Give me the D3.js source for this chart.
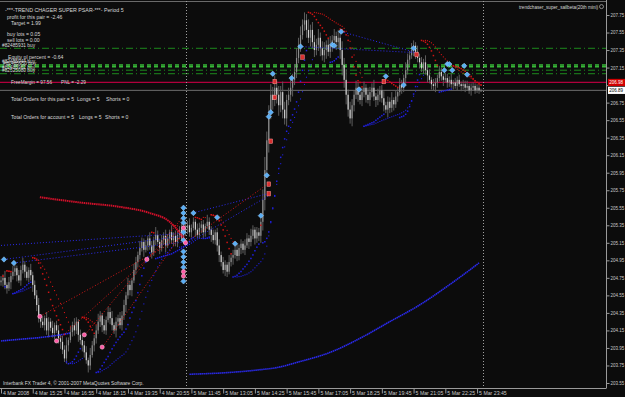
<!DOCTYPE html>
<html>
<head>
<meta charset="utf-8">
<script src="https://cdn.jsdelivr.net/npm/d3@7/dist/d3.min.js"></script>
<style>
  body { margin: 0; background: #0c0c0c; }
  svg { display: block; }
  text { font-family: "Liberation Sans", Arial, sans-serif; white-space: pre; }
</style>
</head>
<body>
<script>
// M5 bars, 4-5 Mar 2008
var firstOpen = 204.70;
var closes = [
  204.72, 204.75, 204.67, 204.63, 204.70, 204.77,
  204.82, 204.86, 204.78, 204.72, 204.84, 204.90, 204.82, 204.75, 204.84,
  204.78, 204.67, 204.55, 204.44, 204.29, 204.25,
  204.21, 204.29, 204.15, 204.25, 204.18, 204.12, 204.21, 204.15, 204.06, 204.02,
  203.93, 203.83, 203.98, 204.04, 204.13,
  204.21, 204.15, 204.25, 204.10, 204.04, 203.98, 203.90,
  203.81, 203.75, 203.87, 203.98, 204.06,
  204.15, 204.25, 204.32, 204.21, 204.15, 204.27, 204.36, 204.29,
  204.21, 204.15, 204.25, 204.29, 204.21, 204.32, 204.44,
  204.55, 204.67, 204.61, 204.72, 204.84, 204.93, 205.01,
  205.09, 205.16, 205.07, 205.12, 205.20, 205.12, 205.04, 205.18,
  205.24, 205.16, 205.09, 205.18, 205.23, 205.12, 205.20, 205.27, 205.18,
  205.23, 205.16, 205.24, 205.30, 205.20, 205.27, 205.32,
  205.35, 205.27, 205.32, 205.39, 205.30, 205.24, 205.32,
  205.36, 205.27, 205.34, 205.39, 205.30, 205.24, 205.18, 205.27,
  205.12, 205.01, 204.93, 204.84, 204.90, 204.82, 204.93,
  204.98, 205.01, 205.07, 205.00, 205.09, 205.14, 205.07,
  205.12, 205.20, 205.16, 205.23, 205.30, 205.20, 205.27, 205.23,
  205.39, 205.64, 205.98, 206.32, 206.64, 206.84,
  206.78, 206.92, 206.84, 206.72, 206.87, 206.67,
  206.57, 206.78, 206.84, 206.92, 207.01, 207.10,
  207.26, 207.41, 207.52, 207.64, 207.69, 207.58,
  207.49, 207.58, 207.44, 207.35, 207.41, 207.49, 207.37, 207.29, 207.35, 207.41,
  207.33, 207.41, 207.46, 207.51, 207.44, 207.49, 207.35,
  207.18, 207.01, 206.84, 206.67, 206.57, 206.72, 206.84,
  206.92, 206.84, 206.78, 206.87, 206.92, 206.84, 206.78,
  206.87, 206.92, 206.82, 206.78, 206.84, 206.89, 206.80,
  206.72, 206.67, 206.76, 206.69, 206.78, 206.73, 206.82,
  206.87, 206.95, 206.92, 207.03, 207.12, 207.24, 207.29,
  207.35, 207.40, 207.33, 207.26, 207.21,
  207.14, 207.21, 207.12, 207.06, 207.01, 206.96, 206.94,
  206.98, 207.03, 207.10, 207.05, 207.01, 207.03,
  206.98, 207.01, 206.96, 206.98, 206.94, 207.01, 206.96,
  206.94, 206.96, 206.92, 206.94, 206.89, 206.92, 206.94, 206.89,
  206.92, 206.89, 206.89
];
// upper / lower wick beyond the body, in pips
var hiExt = [
  5,4,8,3,6,4,7,5,3,6, 5,8,4,6,3,7,4,5,6,8, 4,6,3,7,5,4,8,3,5,6, 4,7,5,9,3,6,4,8,5,3,
  6,4,5,7,3,8,5,4,6,9, 5,3,7,4,6,5,8,3,5,4, 7,5,6,4,8,5,3,7,6,4, 8,5,4,6,3,7,5,4,9,5,
  3,6,4,7,5,3,8,4,6,5, 4,7,3,6,5,8,4,5,3,7, 6,4,5,3,8,5,4,6,3,5, 7,4,6,5,3,8,4,6,5,7,
  4,5,3,7,6,4,8,5,3,6, 5,10,12,15,10,8,12,9,14,8, 10,7,12,9,6,8,10,7,9,11, 8,10,6,9,7,12,6,9,8,7,
  10,6,8,9,5,7,10,6,8,5, 9,7,10,8,12,6,9,7,5,8, 6,9,5,7,4,8,6,5,9,4, 7,5,6,8,4,6,5,9,3,7,
  5,8,6,4,9,7,5,8,6,4, 7,5,6,4,8,5,7,3,6,5, 4,7,5,3,6,5,4,7,3,5, 4,6,3,5,4,6,3,5,4,3,
  4,3,2
];
var loExt = [
  4,7,5,6,3,8,4,5,7,3, 6,4,7,3,5,6,8,4,7,5, 7,3,6,5,8,4,5,7,3,6, 8,5,4,6,7,3,5,6,4,8,
  5,7,6,4,8,5,3,7,6,4, 6,8,4,5,3,7,6,4,8,5, 4,6,5,8,4,6,7,3,5,6, 5,4,8,3,6,5,7,4,6,3,
  7,4,5,8,3,6,4,7,5,6, 5,3,6,4,7,5,6,3,8,4, 4,6,7,5,3,6,8,4,5,7, 8,5,4,7,6,3,5,8,4,6,
  5,7,4,6,3,8,5,4,7,5, 6,8,10,12,9,14,8,11,7,10, 12,8,10,7,9,6,8,10,6,7, 6,8,5,7,9,6,10,7,8,6,
  7,9,6,8,10,5,7,8,6,9, 8,10,12,9,11,8,6,9,7,5, 8,5,7,6,9,4,7,6,5,8, 6,8,5,7,4,9,6,5,7,4,
  6,4,7,5,8,5,6,4,7,8, 5,7,4,6,5,8,4,6,5,7, 6,4,5,7,3,6,5,4,6,3, 5,3,6,4,5,3,4,6,3,4,
  3,4,2
];

var timeLabels = ['4 Mar 2008', '4 Mar 15:25', '4 Mar 16:55', '4 Mar 18:15', '4 Mar 19:35',
  '4 Mar 20:55', '5 Mar 11:45', '5 Mar 13:05', '5 Mar 14:25', '5 Mar 15:45', '5 Mar 17:05',
  '5 Mar 18:25', '5 Mar 19:45', '5 Mar 21:05', '5 Mar 22:25', '5 Mar 23:45'];
var barsPerLabel = 16;
var daySeparators = [93.5, 243];
var priceTicks = [207.75, 207.55, 207.35, 207.15, 206.95, 206.75, 206.55, 206.35, 206.15,
  205.95, 205.75, 205.55, 205.35, 205.15, 204.95, 204.75, 204.55, 204.35, 204.15, 203.95,
  203.75, 203.55];

var bidPrice = 206.89;
var marginLine = 206.98;

// open orders (all buys)
var orderTickets = ['82485931', '82485944', '82485950', '82485962', '82525080'];
var orderPrices = [207.37, 207.18, 207.16, 207.12, 207.08];

// slow SAR traces [bar, price]
var slowSarDown = [[19.6, 205.67], [39.8, 205.61], [59.9, 205.56], [75, 205.49], [85, 205.39], [93.6, 205.16]];
var slowSarUpA = [[0, 204.03], [10, 204.05], [20, 204.07], [30, 204.10], [35, 204.12]];
var slowSarUpB = [[95, 203.65], [115, 203.67], [130, 203.70], [140, 203.73], [150, 203.79],
  [166, 203.90], [181, 204.06], [196, 204.25], [211, 204.44], [226, 204.67], [241, 204.92]];

// history trade lines [openBar, openPrice, closeBar, closePrice]
var buyTrades = [
  [0, 205.12, 92.6, 205.26], [1.5, 204.96, 92.6, 205.23], [6.5, 204.92, 92.6, 205.16],
  [96.6, 205.49, 134.4, 205.71], [93.6, 205.14, 134.4, 205.68],
  [150.5, 207.39, 209.4, 207.32], [171.6, 207.56, 209.4, 207.32]
];
var sellTrades = [
  [19.6, 204.31, 92.6, 205.23], [28.2, 204.03, 92.6, 205.35], [42.3, 204.10, 92.6, 205.47],
  [51.3, 203.96, 92.6, 205.30], [93.6, 205.16, 134.4, 205.82]
];

// arrows [bar, price]
var buyArrows = [[1.5, 204.96], [6.5, 204.92],
  [92, 205.55], [92, 205.49], [92, 205.43], [92, 205.38], [92, 205.27], [92, 205.18],
  [92, 205.05], [92, 204.99], [92, 204.93], [92, 204.87], [92, 204.71],
  [97, 205.49], [109, 205.44], [118, 205.14], [131, 205.46], [134, 205.92], [135, 206.59],
  [136, 206.64], [137, 207.08], [146.5, 207.03], [151, 207.39], [167, 207.41], [168, 207.40],
  [171.5, 207.56], [180.5, 206.90], [194, 207.05], [203, 206.95], [208, 207.37], [223.5, 207.12],
  [225, 207.19], [226, 207.19], [227.5, 207.12], [233.5, 207.17], [235, 207.07]];
var closeArrows = [[19.6, 204.31], [28, 204.03], [42, 204.10], [51, 203.96], [73.5, 204.96],
  [92, 205.32], [93, 205.15], [92, 204.82], [92, 204.77]];
var sellArrows = [[135, 205.82], [135, 205.71], [136, 206.31], [138, 206.99], [138, 206.81],
  [152, 207.27], [193, 206.99], [209.5, 207.30]];

var profitPair = '-2.46', target = '1.99', buyLots = '0.05', sellLots = '0.00';
var equityPct = '-0.64', freeMargin = '97.56', pnl = '-2.29';
var pairOrders = [5, 5, 0], accountOrders = [5, 5, 0];

// ---------------------------------------------------------------
var W = 625, H = 397, plotR = 606, plotB = 388;
var svg = d3.select('body').append('svg').attr('width', W).attr('height', H);
svg.append('rect').attr('width', W).attr('height', H).attr('fill', '#0c0c0c');

var x = d3.scaleLinear().domain([0, 305]).range([1, plotR]);
var y = d3.scaleLinear().domain([203.55, 207.75]).range([383, 15]);

svg.append('clipPath').attr('id', 'plot').append('rect')
  .attr('x', 0).attr('y', 1).attr('width', plotR).attr('height', plotB - 1);
var g = svg.append('g').attr('clip-path', 'url(#plot)');

var bars = closes.map(function(c, i) {
  var o = i === 0 ? firstOpen : closes[i - 1];
  return { i: i, o: o, c: c,
    h: Math.max(o, c) + hiExt[i] / 100,
    l: Math.min(o, c) - loExt[i] / 100 };
});

// parabolic SAR
var psar = function(step, maxStep) {
  var out = [];
  var up = true, af = step, ep = bars[0].h, sar = bars[0].l;
  for (var i = 1; i < bars.length; i++) {
    var b = bars[i], p = bars[i - 1];
    sar = sar + af * (ep - sar);
    if (up) {
      sar = Math.min(sar, p.l);
      if (b.l < sar) { up = false; sar = ep; ep = b.l; af = step; }
      else if (b.h > ep) { ep = b.h; af = Math.min(af + step, maxStep); }
    } else {
      sar = Math.max(sar, p.h);
      if (b.h > sar) { up = true; sar = ep; ep = b.h; af = step; }
      else if (b.l < ep) { ep = b.l; af = Math.min(af + step, maxStep); }
    }
    out.push({ i: i, v: sar, up: up });
  }
  return out;
};

// horizontal levels
g.append('line').attr('x1', 0).attr('x2', plotR).attr('y1', 1.5).attr('y2', 1.5)
  .attr('stroke', '#6a6a6a');

orderPrices.forEach(function(p, k) {
  var thick = k === 1 || k === 2;
  g.append('line').attr('x1', 0).attr('x2', plotR)
    .attr('y1', y(p)).attr('y2', y(p))
    .attr('stroke', thick ? '#37b837' : '#1d8a1d')
    .attr('stroke-width', thick ? 1.6 : 1)
    .attr('stroke-dasharray', thick ? '4,3' : '7,3,1,3');
});
g.append('line').attr('x1', 0).attr('x2', plotR).attr('y1', y(marginLine)).attr('y2', y(marginLine))
  .attr('stroke', '#b0003c').attr('stroke-width', 1.2);
g.append('line').attr('x1', 0).attr('x2', plotR).attr('y1', y(bidPrice)).attr('y2', y(bidPrice))
  .attr('stroke', '#6e6e6e');

daySeparators.forEach(function(b) {
  g.append('line').attr('x1', Math.round(x(b)) + 0.5).attr('x2', Math.round(x(b)) + 0.5)
    .attr('y1', 1).attr('y2', plotB)
    .attr('stroke', '#a0a0a0').attr('stroke-dasharray', '1,2');
});

// bars
g.selectAll('line.wick').data(bars).enter().append('line').attr('class', 'wick')
  .attr('x1', function(d) { return x(d.i); }).attr('x2', function(d) { return x(d.i); })
  .attr('y1', function(d) { return y(d.h); }).attr('y2', function(d) { return y(d.l); })
  .attr('stroke', '#5e5e5e').attr('stroke-width', 1);
g.selectAll('rect.body').data(bars).enter().append('rect').attr('class', 'body')
  .attr('x', function(d) { return x(d.i) - 0.6; }).attr('width', 1.2)
  .attr('y', function(d) { return y(Math.max(d.o, d.c)); })
  .attr('height', function(d) { return Math.max(1, Math.abs(y(d.o) - y(d.c))); })
  .attr('fill', function(d) { return d.c < d.o ? '#d0d0d0' : '#8c8c8c'; });

// trade lines
var tradeLine = function(list, color) {
  g.selectAll(null).data(list).enter().append('line')
    .attr('x1', function(d) { return x(d[0]); }).attr('y1', function(d) { return y(d[1]); })
    .attr('x2', function(d) { return x(d[2]); }).attr('y2', function(d) { return y(d[3]); })
    .attr('stroke', color).attr('stroke-width', 1).attr('stroke-dasharray', '1,2');
};
tradeLine(buyTrades, '#2b2bee');
tradeLine(sellTrades, '#d81818');

// slow SAR traces
var trace = d3.line().x(function(d) { return x(d[0]); }).y(function(d) { return y(d[1]); })
  .curve(d3.curveMonotoneX);
g.append('path').attr('d', trace(slowSarDown)).attr('fill', 'none')
  .attr('stroke', '#d0102a').attr('stroke-width', 2).attr('stroke-dasharray', '1.5,0.6');
[slowSarUpA, slowSarUpB].forEach(function(s) {
  g.append('path').attr('d', trace(s)).attr('fill', 'none')
    .attr('stroke', '#2a2aee').attr('stroke-width', 1.6).attr('stroke-dasharray', '1.5,0.5');
});

// PSAR dots, fast and slow
[[psar(0.02, 0.2), 1.5], [psar(0.01, 0.1), 1.1]].forEach(function(s) {
  var sz = s[1];
  g.selectAll(null).data(s[0]).enter().append('rect')
    .attr('x', function(d) { return x(d.i) - sz / 2; })
    .attr('y', function(d) { return y(d.v) - sz / 2; })
    .attr('width', sz).attr('height', sz)
    .attr('fill', function(d) { return d.up ? '#2020e0' : '#d01414'; });
});

// arrows
g.selectAll(null).data(buyArrows).enter().append('rect')
  .attr('x', -1.9).attr('y', -1.9).attr('width', 3.8).attr('height', 3.8)
  .attr('transform', function(d) { return 'translate(' + x(d[0]) + ',' + y(d[1]) + ') rotate(45)'; })
  .attr('fill', '#5aaef5').attr('stroke', '#9ad0ff').attr('stroke-width', 0.5);
g.selectAll(null).data(closeArrows).enter().append('circle')
  .attr('cx', function(d) { return x(d[0]); }).attr('cy', function(d) { return y(d[1]); })
  .attr('r', 2.1).attr('fill', '#ff5aa5').attr('stroke', '#ffc0dc').attr('stroke-width', 0.6);
g.selectAll(null).data(sellArrows).enter().append('rect')
  .attr('x', function(d) { return x(d[0]) - 1.8; }).attr('y', function(d) { return y(d[1]) - 2.2; })
  .attr('width', 3.6).attr('height', 4.4)
  .attr('fill', '#d83030').attr('stroke', '#ff9a9a').attr('stroke-width', 0.5);

// axes
var hiddenByBox = function(v) {
  return Math.abs(y(v) - y(marginLine)) < 6 || Math.abs(y(v) - y(bidPrice)) < 6;
};
var axisR = d3.axisRight(y).tickValues(priceTicks).tickSize(3)
  .tickFormat(function(d) { return hiddenByBox(d) ? '' : d.toFixed(2); });
var ay = svg.append('g').attr('transform', 'translate(' + (plotR + 0.5) + ',0)').call(axisR);
ay.select('.domain').attr('stroke', '#9a9a9a').attr('d', 'M0,0V' + plotB);
ay.selectAll('line').attr('stroke', '#9a9a9a');
ay.selectAll('text').attr('fill', '#c8c8c8').attr('font-size', 4.5).attr('x', 4)
  .style('font-family', '"Liberation Sans", Arial, sans-serif');

var axisB = d3.axisBottom(x).tickValues(timeLabels.map(function(t, k) { return k * barsPerLabel; }))
  .tickSize(5).tickFormat(function(d, k) { return timeLabels[k]; });
var ax = svg.append('g').attr('transform', 'translate(0,' + (plotB + 0.5) + ')').call(axisB);
ax.select('.domain').attr('stroke', '#9a9a9a').attr('d', 'M0,0H' + (plotR + 0.5));
ax.selectAll('line').attr('stroke', '#9a9a9a');
ax.selectAll('text').attr('fill', '#c8c8c8').attr('font-size', 5.2).attr('text-anchor', 'start')
  .attr('x', 1.5).attr('y', 3.2).attr('dy', '0.71em')
  .style('font-family', '"Liberation Sans", Arial, sans-serif');

// price boxes on the scale
var priceBox = function(p, fill, color) {
  svg.append('rect').attr('x', plotR + 2).attr('y', y(p) - 3.6).attr('width', 17).attr('height', 7.2)
    .attr('fill', fill);
  svg.append('text').attr('x', plotR + 3.3).attr('y', y(p) + 1.7).attr('font-size', 4.5)
    .attr('fill', color).text(p.toFixed(2));
};
priceBox(marginLine, '#d00000', '#ffffff');
priceBox(bidPrice, '#ffffff', '#000000');

// on-chart texts
var txt = function(s, tx, ty, fs) {
  return svg.append('text').attr('x', tx).attr('y', ty).attr('font-size', fs || 5.1)
    .attr('fill', '#d8d8d8').text(s);
};
txt('-***-TREND CHAGER SUPER PSAR-***- Period 5', 5, 12, 5.3);
txt('profit for this pair = ' + profitPair, 7, 18.5);
txt('Target = ' + target, 11, 25);
txt('buy lots = ' + buyLots, 7, 36);
txt('sell lots = ' + sellLots, 7, 41.5);
txt('Equity pl percent = ' + equityPct, 8, 59);
txt('FreeMargin = ' + freeMargin, 11, 84, 4.7);
txt('PNL = ' + pnl, 61, 84, 4.7);
txt('Total Orders for this pair = ' + pairOrders[0], 11, 101);
txt('Longs = ' + pairOrders[1], 77, 101);
txt('Shorts = ' + pairOrders[2], 106, 101);
txt('Total Orders for account = ' + accountOrders[0], 11, 119);
txt('Longs = ' + accountOrders[1], 79, 119);
txt('Shorts = ' + accountOrders[2], 105, 119);
orderPrices.forEach(function(p, k) {
  txt('#' + orderTickets[k] + ' buy', 2 + (k === 2 ? 1 : 0), y(p) - 1.5, 4.8);
});
txt('Interbank FX Trader 4, \u00a9 2001-2007 MetaQuotes Software Corp.', 3, 385, 4.9);
txt('trendchaser_super_sailbeta(20th mini)', 519, 8.5, 5)
  .attr('textLength', 79).attr('lengthAdjust', 'spacingAndGlyphs');
svg.append('circle').attr('cx', 601.5).attr('cy', 6.6).attr('r', 2).attr('fill', 'none')
  .attr('stroke', '#d8d8d8').attr('stroke-width', 0.6);
</script>
</body>
</html>
